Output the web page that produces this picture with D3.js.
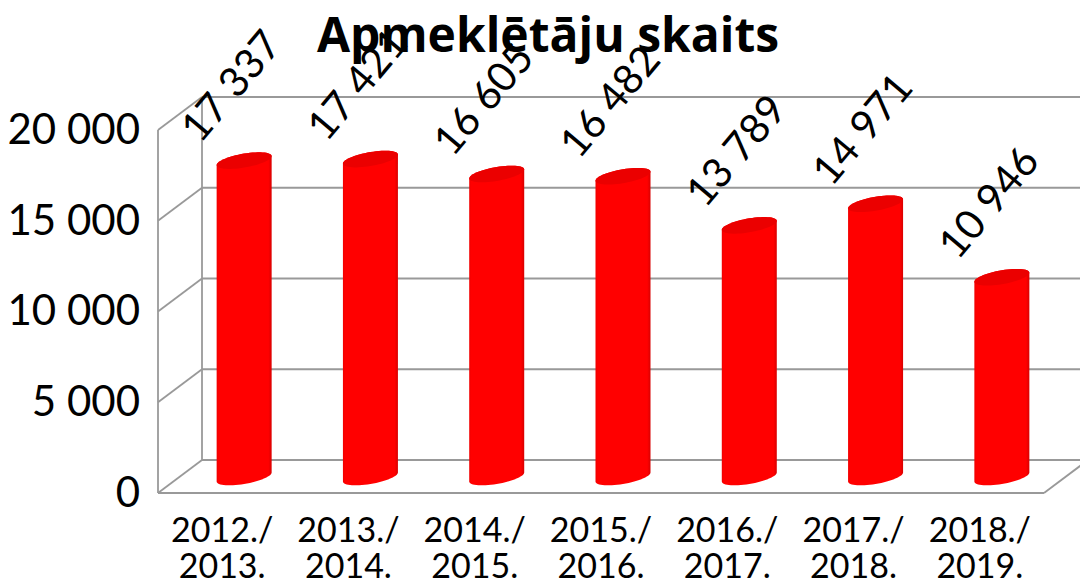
<!DOCTYPE html>
<html>
<head>
<meta charset="utf-8">
<script src="https://cdn.jsdelivr.net/npm/d3@7"></script>
<style>
    html, body { margin: 0; padding: 0; background: white; }
    svg { display: block; font-family: Lato, sans-serif; }
</style>
</head>
<body>
<div id="chart"></div>
<script>
const titleText = "Apmeklētāju skaits";
const seasonsFrom = ["2012./", "2013./", "2014./", "2015./", "2016./", "2017./", "2018./"];
const seasonsTo = ["2013.", "2014.", "2015.", "2016.", "2017.", "2018.", "2019."];
const visitors = [17337, 17421, 16605, 16482, 13789, 14971, 10946];
const yTicks = [0, 5000, 10000, 15000, 20000];

const width = 1080, height = 583;
const depthX = 44, depthY = -33;
const fmt = d => d3.format(",")(d).replace(",", " ");

const svg = d3.select("#chart").append("svg")
    .attr("width", width)
    .attr("height", height)
    .attr("viewBox", "0 0 " + width + " " + height)
    .style("background-color", "white");

// front plane of the 3d box
const y = d3.scaleLinear().domain([0, 20000]).range([493, 130]);
// bars stand in the middle of the floor, so they have their own baseline
const yBar = d3.scaleLinear().domain([0, 20000]).range([477, 112]);
const x = d3.scaleBand().domain(seasonsFrom).range([159, 1043]);
const xBar = d3.scaleBand().domain(seasonsFrom).range([181, 1065]);

const defs = svg.append("defs");
const grad = defs.append("linearGradient").attr("id", "barFill");
grad.append("stop").attr("offset", "0").attr("stop-color", "#f00000");
grad.append("stop").attr("offset", "0.04").attr("stop-color", "#ff0000");
grad.append("stop").attr("offset", "0.94").attr("stop-color", "#ff0000");
grad.append("stop").attr("offset", "1").attr("stop-color", "#d80000");

// walls and grid
const grid = svg.append("g").attr("stroke", "#999").attr("stroke-width", 1.8).attr("fill", "none");
grid.selectAll(".back").data(yTicks).enter().append("line")
    .attr("x1", 158 + depthX).attr("x2", width)
    .attr("y1", d => y(d) + depthY).attr("y2", d => y(d) + depthY);
grid.selectAll(".side").data(yTicks).enter().append("line")
    .attr("x1", 158).attr("x2", 158 + depthX)
    .attr("y1", d => y(d)).attr("y2", d => y(d) + depthY);
grid.append("line").attr("x1", 158).attr("x2", 158).attr("y1", y(0)).attr("y2", y(20000));
grid.append("line").attr("x1", 158 + depthX).attr("x2", 158 + depthX).attr("y1", y(0) + depthY).attr("y2", y(20000) + depthY);
grid.append("line").attr("x1", 158).attr("x2", 1044).attr("y1", y(0)).attr("y2", y(0));
grid.append("line").attr("x1", 1044).attr("x2", 1044 + depthX).attr("y1", y(0)).attr("y2", y(0) + depthY);

// y axis labels
const yAxis = d3.axisLeft(y).tickValues(yTicks).tickFormat(fmt).tickSize(0).tickPadding(18);
const yG = svg.append("g").attr("transform", "translate(158,0)").call(yAxis);
yG.select(".domain").remove();
yG.selectAll("text").attr("font-size", 42).attr("font-family", "Lato").attr("fill", "#000");

// cylinders
const rx = 27.5, ry = 7, skew = 4.5;
function ellipsePath(cx, cy) {
    let pts = d3.range(0, 361, 6).map(function (deg) {
        let t = deg * Math.PI / 180;
        return [cx + rx * Math.cos(t), cy + ry * Math.sin(t) - skew * Math.cos(t)];
    });
    return d3.line()(pts) + "Z";
}
function bodyPath(cx, top, bottom) {
    let pts = [];
    d3.range(180, 361, 6).forEach(function (deg) {
        let t = deg * Math.PI / 180;
        pts.push([cx + rx * Math.cos(t), top + ry * Math.sin(t) - skew * Math.cos(t)]);
    });
    d3.range(0, 181, 6).forEach(function (deg) {
        let t = deg * Math.PI / 180;
        pts.push([cx + rx * Math.cos(t), bottom + ry * Math.sin(t) - skew * Math.cos(t)]);
    });
    return d3.line()(pts) + "Z";
}

const bars = svg.append("g").selectAll("g").data(visitors).enter().append("g");
bars.append("path")
    .attr("fill", "url(#barFill)")
    .attr("d", (d, i) => bodyPath(xBar(seasonsFrom[i]) + xBar.bandwidth() / 2, yBar(d), yBar(0)));
bars.append("path")
    .attr("fill", "#eb0000")
    .attr("d", (d, i) => ellipsePath(xBar(seasonsFrom[i]) + xBar.bandwidth() / 2, yBar(d)));

// value labels
svg.append("g").selectAll("text").data(visitors).enter().append("text")
    .attr("transform", (d, i) => "translate(" + (xBar(seasonsFrom[i]) + xBar.bandwidth() / 2 - 44) + "," + (yBar(d) - 16) + ") rotate(-50)")
    .attr("font-size", 41)
    .attr("fill", "#000")
    .text(fmt);

// category labels
const xAxis = d3.axisBottom(x).tickSize(0).tickPadding(0).tickFormat("");
const xG = svg.append("g").attr("transform", "translate(0,493)").call(xAxis);
xG.select(".domain").remove();
xG.selectAll("g.tick").each(function (d, i) {
    let t = d3.select(this).select("text")
        .attr("font-size", 34).attr("font-family", "Lato").attr("fill", "#000").attr("y", 0).attr("dy", 0);
    t.append("tspan").attr("x", 0).attr("y", 49).text(seasonsFrom[i]);
    t.append("tspan").attr("x", 0).attr("y", 85).text(seasonsTo[i]);
});

svg.append("text")
    .attr("x", 548).attr("y", 52)
    .attr("text-anchor", "middle")
    .attr("font-family", "Open Sans")
    .attr("font-size", 48)
    .attr("font-weight", "bold")
    .attr("fill", "#000")
    .text(titleText);
</script>
</body>
</html>
